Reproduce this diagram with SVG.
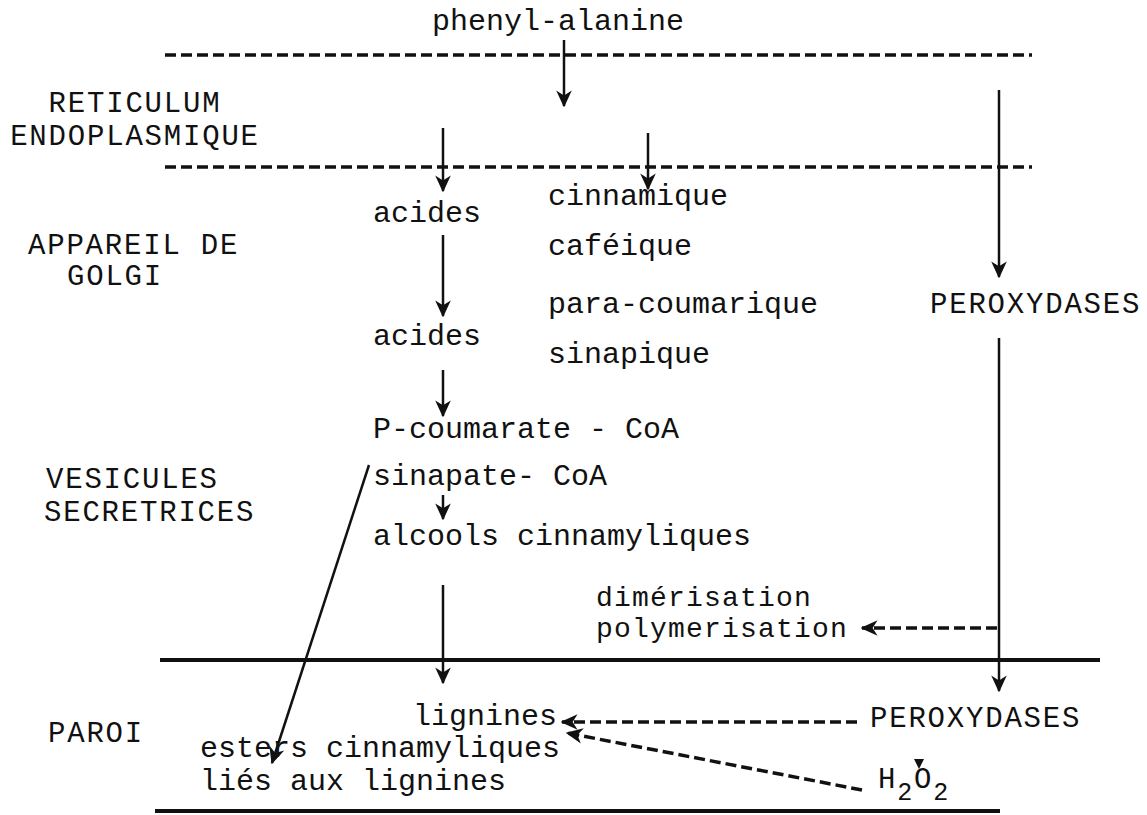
<svg xmlns="http://www.w3.org/2000/svg" width="1147" height="815" viewBox="0 0 1147 815">
<defs>
<style>
.t{font-family:"Liberation Mono","Courier New",monospace;font-size:30px;fill:#111}
.c{font-family:"Liberation Mono","Courier New",monospace;font-size:28px;letter-spacing:1.2px;fill:#111}
.u{font-family:"Liberation Mono","Courier New",monospace;font-size:29px;letter-spacing:1.8px;fill:#111}
.a{stroke:#111;stroke-width:2.5;fill:none}
.d{stroke:#111;stroke-width:3.5;fill:none;stroke-dasharray:11 5}
.s{stroke:#111;stroke-width:4;fill:none}
</style>
<marker id="ahb" viewBox="0 0 12 12" refX="11" refY="6" markerWidth="17" markerHeight="17" orient="auto" markerUnits="userSpaceOnUse">
<path d="M0,0.5 L12,6 L0,11.5 L3.5,6 z" fill="#111"/>
</marker>
</defs>
<rect width="1147" height="815" fill="#fff"/>

<g id="boundaries">
<line class="d" x1="165" y1="55" x2="1032" y2="55"/>
<line class="d" x1="165" y1="167" x2="1032" y2="167"/>
<line class="s" x1="160" y1="660" x2="1100" y2="660"/>
<line class="s" x1="155" y1="811" x2="1000" y2="811"/>
</g>

<g id="labels">
<text class="u" x="135" y="112" text-anchor="middle">RETICULUM</text>
<text class="u" x="135" y="145" text-anchor="middle">ENDOPLASMIQUE</text>
<text class="u" x="28" y="254">APPAREIL DE</text>
<text class="u" x="67" y="285">GOLGI</text>
<text class="u" x="46" y="488">VESICULES</text>
<text class="u" x="44" y="521">SECRETRICES</text>
<text class="u" x="48" y="742">PAROI</text>
</g>

<g id="n-phenylalanine"><text class="t" x="432" y="30">phenyl-alanine</text></g>
<g id="n-acides1"><text class="t" x="373" y="222">acides</text></g>
<g id="n-acides-list">
<text class="t" x="548" y="205">cinnamique</text>
<text class="t" x="548" y="255">caféique</text>
<text class="t" x="548" y="313">para-coumarique</text>
<text class="t" x="548" y="363">sinapique</text>
</g>
<g id="n-peroxydases1"><text class="u" x="930" y="313">PEROXYDASES</text></g>
<g id="n-acides2"><text class="t" x="373" y="345">acides</text></g>
<g id="n-coa">
<text class="t" x="373" y="438">P-coumarate - CoA</text>
<text class="t" x="373" y="485">sinapate- CoA</text>
</g>
<g id="n-alcools"><text class="t" x="373" y="545">alcools cinnamyliques</text></g>
<g id="n-dimerisation">
<text class="c" x="596" y="606">dimérisation</text>
<text class="c" x="596" y="637">polymerisation</text>
</g>
<g id="n-lignines"><text class="t" x="413" y="725">lignines</text></g>
<g id="n-esters">
<text class="t" x="200" y="757">esters cinnamyliques</text>
<text class="t" x="200" y="790">liés aux lignines</text>
</g>
<g id="n-peroxydases2"><text class="u" x="870" y="727">PEROXYDASES</text></g>
<g id="n-h2o2"><text class="u" x="878" y="788" letter-spacing="0">H<tspan dy="12" font-size="25">2</tspan><tspan dy="-12">O</tspan><tspan dy="12" font-size="25">2</tspan></text></g>

<g id="connectors">
<line class="a" x1="564" y1="40" x2="564" y2="106" marker-end="url(#ahb)"/>
<line class="a" x1="443" y1="128" x2="443" y2="191" marker-end="url(#ahb)"/>
<line class="a" x1="648" y1="133" x2="648" y2="189" marker-end="url(#ahb)"/>
<line class="a" x1="999" y1="90" x2="999" y2="277" marker-end="url(#ahb)"/>
<line class="a" x1="443" y1="235" x2="443" y2="316" marker-end="url(#ahb)"/>
<line class="a" x1="443" y1="370" x2="443" y2="416" marker-end="url(#ahb)"/>
<line class="a" x1="999" y1="338" x2="999" y2="691" marker-end="url(#ahb)"/>
<line class="a" x1="369" y1="465" x2="272" y2="763" marker-end="url(#ahb)"/>
<line class="a" x1="443" y1="495" x2="443" y2="519" marker-end="url(#ahb)"/>
<line class="a" x1="443" y1="585" x2="443" y2="683" marker-end="url(#ahb)"/>
<line class="d" x1="997" y1="628" x2="862" y2="628" marker-end="url(#ahb)"/>
<line class="d" x1="857" y1="722" x2="562" y2="722" marker-end="url(#ahb)"/>
<line class="d" x1="862" y1="790" x2="567" y2="733" marker-end="url(#ahb)"/>
<path d="M914,759 L924,759 L919,769 z" fill="#111"/>
</g>
</svg>
